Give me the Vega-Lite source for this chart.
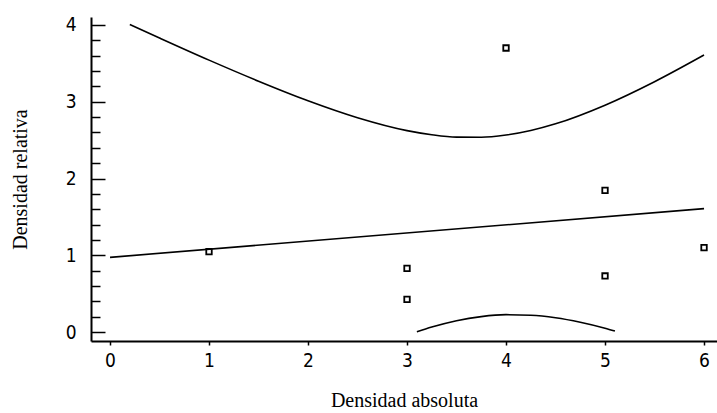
{
  "$schema": "https://vega.github.io/schema/vega-lite/v6.json",
  "width": 626,
  "height": 324,
  "autosize": {"type": "none"},
  "padding": {"left": 91, "top": 17, "right": 0, "bottom": 72},
  "background": "white",
  "config": {"view": {"stroke": null}},
  "datasets": {
    "pts": [
      {"x": 1, "y": 1.046},
      {"x": 3, "y": 0.83},
      {"x": 3, "y": 0.426},
      {"x": 4, "y": 3.70},
      {"x": 5, "y": 1.846},
      {"x": 5, "y": 0.73},
      {"x": 6, "y": 1.10}
    ],
    "curves": [
      {"s": "fit", "x": 0, "y": 0.973},
      {"s": "fit", "x": 6, "y": 1.607},
      {"s": "upper", "x": 0.2, "y": 4.006},
      {"s": "upper", "x": 0.5, "y": 3.830},
      {"s": "upper", "x": 1.0, "y": 3.542},
      {"s": "upper", "x": 1.5, "y": 3.268},
      {"s": "upper", "x": 2.0, "y": 3.013},
      {"s": "upper", "x": 2.5, "y": 2.792},
      {"s": "upper", "x": 3.0, "y": 2.624},
      {"s": "upper", "x": 3.25, "y": 2.570},
      {"s": "upper", "x": 3.5, "y": 2.539},
      {"s": "upper", "x": 3.75, "y": 2.537},
      {"s": "upper", "x": 4.0, "y": 2.566},
      {"s": "upper", "x": 4.25, "y": 2.625},
      {"s": "upper", "x": 4.5, "y": 2.712},
      {"s": "upper", "x": 5.0, "y": 2.955},
      {"s": "upper", "x": 5.5, "y": 3.261},
      {"s": "upper", "x": 6.0, "y": 3.609},
      {"s": "lower", "x": 3.1, "y": 0.002},
      {"s": "lower", "x": 3.25, "y": 0.064},
      {"s": "lower", "x": 3.5, "y": 0.147},
      {"s": "lower", "x": 3.75, "y": 0.201},
      {"s": "lower", "x": 4.0, "y": 0.226},
      {"s": "lower", "x": 4.25, "y": 0.219},
      {"s": "lower", "x": 4.5, "y": 0.186},
      {"s": "lower", "x": 4.75, "y": 0.127},
      {"s": "lower", "x": 5.0, "y": 0.049},
      {"s": "lower", "x": 5.1, "y": 0.012}
    ]
  },
  "layer": [
    {
      "data": {"name": "curves"},
      "mark": {"type": "line", "color": "black", "strokeWidth": 1.6, "interpolate": "monotone"},
      "encoding": {
        "x": {
          "field": "x", "type": "quantitative",
          "scale": {"domain": [-0.192, 6.131], "nice": false, "zero": false},
          "axis": {
            "title": "Densidad absoluta",
            "titleFont": "Liberation Serif", "titleFontSize": 20, "titleFontWeight": "normal",
            "titleColor": "black", "titleX": 313, "titleY": 59, "titleBaseline": "middle", "titleAlign": "center",
            "values": [0, 1, 2, 3, 4, 5, 6], "format": "d",
            "labelFont": "DejaVu Sans Condensed, DejaVu Sans, sans-serif",
            "labelFontSize": 19, "labelColor": "black", "labelPadding": 6,
            "tickSize": 4, "tickColor": "black", "tickWidth": 1.5,
            "domainColor": "black", "domainWidth": 2, "grid": false
          }
        },
        "y": {
          "field": "y", "type": "quantitative",
          "scale": {"domain": [-0.117, 4.104], "nice": false, "zero": false},
          "axis": {
            "title": "Densidad relativa",
            "titleFont": "Liberation Serif", "titleFontSize": 20, "titleFontWeight": "normal",
            "titleColor": "black", "titleX": -71, "titleY": 162, "titleBaseline": "middle", "titleAlign": "center", "titleAngle": -90,
            "values": [0, 1, 2, 3, 4], "format": "d",
            "labelFont": "DejaVu Sans Condensed, DejaVu Sans, sans-serif",
            "labelFontSize": 19, "labelColor": "black", "labelPadding": 29,
            "tickSize": -14, "tickColor": "black", "tickWidth": 1.5,
            "domainColor": "black", "domainWidth": 2, "grid": false
          }
        },
        "detail": {"field": "s", "type": "nominal"}
      }
    },
    {
      "data": {"name": "pts"},
      "mark": {"type": "point", "shape": "square", "filled": false, "color": "black", "strokeWidth": 1.8, "size": 30, "opacity": 1},
      "encoding": {
        "x": {"field": "x", "type": "quantitative"},
        "y": {"field": "y", "type": "quantitative", "axis": null}
      }
    },
    {
      "data": {"values": [{"y": 0}]},
      "mark": {"type": "point", "opacity": 0},
      "encoding": {
        "y": {
          "field": "y", "type": "quantitative",
          "axis": {
            "orient": "left", "title": null, "labels": false, "domain": false, "grid": false,
            "values": [0.2, 0.4, 0.6, 0.8, 1.2, 1.4, 1.6, 1.8, 2.2, 2.4, 2.6, 2.8, 3.2, 3.4, 3.6, 3.8],
            "tickSize": -9, "tickColor": "black", "tickWidth": 1.5
          }
        }
      }
    }
  ],
  "resolve": {"axis": {"y": "independent"}}
}
